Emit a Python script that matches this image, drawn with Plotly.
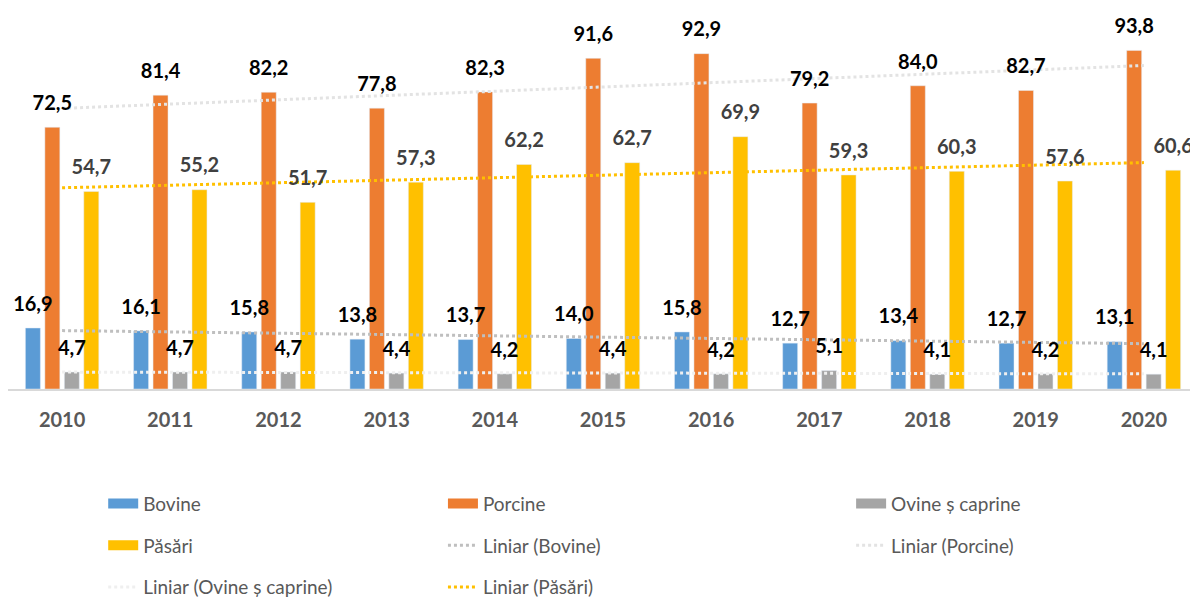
import numpy as np
import plotly.graph_objects as go

years = ["2010", "2011", "2012", "2013", "2014", "2015", "2016", "2017", "2018", "2019", "2020"]
bovine = [16.9, 16.1, 15.8, 13.8, 13.7, 14.0, 15.8, 12.7, 13.4, 12.7, 13.1]
porcine = [72.5, 81.4, 82.2, 77.8, 82.3, 91.6, 92.9, 79.2, 84.0, 82.7, 93.8]
ovine = [4.7, 4.7, 4.7, 4.4, 4.2, 4.4, 4.2, 5.1, 4.1, 4.2, 4.1]
pasari = [54.7, 55.2, 51.7, 57.3, 62.2, 62.7, 69.9, 59.3, 60.3, 57.6, 60.6]

series = [
    ("Bovine", bovine, "#5B9BD5", "#000000", "#BFBFBF", 1),
    ("Porcine", porcine, "#ED7D31", "#000000", "#E3E3E3", 2),
    ("Ovine ș caprine", ovine, "#A5A5A5", "#000000", "#EFEFEF", 3),
    ("Păsări", pasari, "#FFC000", "#404040", "#FFC000", 1),
]
legend_of_trend = {"Bovine": 2, "Porcine": 3, "Ovine ș caprine": 1, "Păsări": 2}

def lgname(n):
    return "legend" if n == 1 else f"legend{n}"

BARGAP = 0.28
BARGROUPGAP = 0.23
LF = "Lato, 'Open Sans', sans-serif"
fig = go.Figure()
xi = np.arange(len(years))
nser = len(series)
slot = (1 - BARGAP) / nser

for name, vals, col, tcol, trcol, leg in series:
    fig.add_trace(go.Bar(
        x=xi, y=vals, name=name, marker_color=col,
        showlegend=False, hovertemplate="%{y}<extra>" + name + "</extra>",
    ))
    # legend entry drawn as a wide swatch
    fig.add_trace(go.Scatter(
        x=[None], y=[None], mode="lines", name=name,
        line=dict(color=col, width=14),
        legend=lgname(leg), legendgroup=name,
    ))

for name, vals, col, tcol, trcol, leg in series:
    k, b = np.polyfit(xi, vals, 1)
    fit = k * xi + b
    lg = legend_of_trend[name]
    fig.add_trace(go.Scatter(
        x=xi, y=fit, mode="lines", name=f"Liniar ({name})",
        line=dict(color=trcol, width=3, dash="dot"),
        hoverinfo="skip",
        legend=lgname(lg), legendgroup=f"t{name}",
    ))

# data labels above each bar (drawn last so they sit on top)
for j, (name, vals, col, tcol, trcol, leg) in enumerate(series):
    off = (j - (nser - 1) / 2) * slot
    fig.add_trace(go.Scatter(
        x=xi + off, y=vals, mode="markers+text",
        marker=dict(size=18, color="rgba(0,0,0,0)"),
        text=[f"{v:.1f}".replace(".", ",") for v in vals],
        textposition="top center", cliponaxis=False,
        textfont=dict(family=LF, size=20, color=tcol, weight="bold"),
        showlegend=False, hoverinfo="skip",
    ))

legfont = dict(family=LF, size=19, color="#595959")
common = dict(orientation="v", font=legfont, tracegroupgap=14, bgcolor="rgba(0,0,0,0)",
              yanchor="top", y=-0.265, xanchor="left", traceorder="grouped")
fig.update_layout(
    width=1198, height=601,
    margin=dict(l=0, r=8, t=20, b=220, autoexpand=False),
    paper_bgcolor="white", plot_bgcolor="white",
    barmode="group", bargap=BARGAP, bargroupgap=BARGROUPGAP,
    showlegend=True,
    legend=dict(x=0.080, **common),
    legend2=dict(x=0.3655, **common),
    legend3=dict(x=0.7085, **common),
    xaxis=dict(showgrid=False, showline=True, linecolor="#D9D9D9", linewidth=2, zeroline=False,
               tickmode="array", tickvals=xi, ticktext=years,
               ticks="outside", ticklen=12, tickcolor="rgba(0,0,0,0)",
               tickfont=dict(family=LF, size=20, color="#595959", weight="bold"),
               range=[-0.5, len(years) - 0.5]),
    yaxis=dict(range=[0, 100], visible=False, showgrid=False, zeroline=False),
)
fig.write_html("out.html")
